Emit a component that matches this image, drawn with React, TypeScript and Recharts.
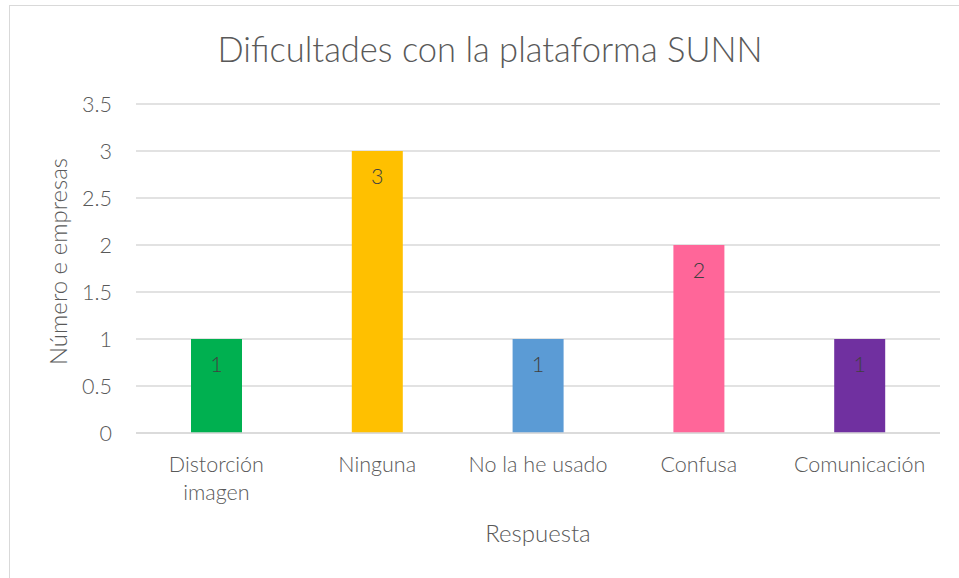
import React from 'react';
import { BarChart, Bar, XAxis, YAxis, CartesianGrid, Cell, LabelList, Label } from 'recharts';

const categories = ['Distorción\nimagen', 'Ninguna', 'No la he usado', 'Confusa', 'Comunicación'];
const values = [1, 3, 1, 2, 1];
const colors = ['#00B050', '#FFC000', '#5B9BD5', '#FF6699', '#7030A0'];
const yTicks = [0, 0.5, 1, 1.5, 2, 2.5, 3, 3.5];
const title = 'Dificultades con la plataforma SUNN';
const xTitle = 'Respuesta';
const yTitle = 'Número e empresas';

const data = categories.map((c, i) => ({ name: c, value: values[i] }));

const FONT = 'Lato, sans-serif';
const TEXT = '#595959';
const W = 300;

const XTick = (props: any) => {
  const { x, y, payload } = props;
  const lines = String(payload.value).split('\n');
  return (
    <text x={x} y={y} textAnchor="middle" fill={TEXT} fontFamily={FONT} fontSize={21.5} fontWeight={W}>
      {lines.map((l: string, i: number) => (
        <tspan key={i} x={x} dy={i === 0 ? 31 : 28}>{l}</tspan>
      ))}
    </text>
  );
};

const YTitle = (props: any) => {
  const vb = props.viewBox || {};
  const cx = (vb.x || 0) + 57;
  const cy = (vb.y || 0) + (vb.height || 0) / 2 - 7;
  return (
    <text x={cx} y={cy} transform={`rotate(-90, ${cx}, ${cy})`} textAnchor="middle" dominantBaseline="central" fill={TEXT} fontFamily={FONT} fontSize={24} fontWeight={W}>
      {yTitle}
    </text>
  );
};

export default function App() {
  return (
    <div style={{ position: 'absolute', left: 0, top: 0, width: 959, height: 578, background: '#fff', overflow: 'hidden' }}>
      <div style={{ position: 'absolute', left: 9, top: 5, width: 980, height: 600, border: '1px solid #d9d9d9', boxSizing: 'border-box' }} />
      <div style={{ position: 'absolute', left: 0, width: 980, top: 24, textAlign: 'center', fontFamily: FONT, fontSize: 34.5, fontWeight: W, color: TEXT, lineHeight: '50px', whiteSpace: 'nowrap' }}>
        {title}
      </div>
      <div style={{ position: 'absolute', left: 0, top: 0 }}>
        <BarChart width={959} height={578} data={data} margin={{ top: 104, right: 19, left: 0, bottom: 0 }}>
          <CartesianGrid vertical={false} stroke="#d9d9d9" strokeWidth={1.5} />
          <XAxis
            dataKey="name"
            height={145}
            tick={<XTick />}
            tickLine={false}
            axisLine={{ stroke: '#d9d9d9', strokeWidth: 1.5 }}
            interval={0}
          >
            <Label value={xTitle} position="insideTop" offset={92} fill={TEXT} fontFamily={FONT} fontSize={24} fontWeight={W} />
          </XAxis>
          <YAxis
            width={136}
            domain={[0, 3.5]}
            ticks={yTicks}
            tickLine={false}
            axisLine={false}
            tickSize={0}
            tickMargin={24}
            interval={0}
            tick={{ fill: TEXT, fontFamily: FONT, fontSize: 21.5, fontWeight: W }}
          >
            <Label content={<YTitle />} />
          </YAxis>
          <Bar dataKey="value" barSize={51} isAnimationActive={false}>
            {data.map((d, i) => (
              <Cell key={i} fill={colors[i]} />
            ))}
            <LabelList dataKey="value" position="insideTop" offset={18} fill="#404040" fontFamily={FONT} fontSize={21.5} fontWeight={W} />
          </Bar>
        </BarChart>
      </div>
    </div>
  );
}
